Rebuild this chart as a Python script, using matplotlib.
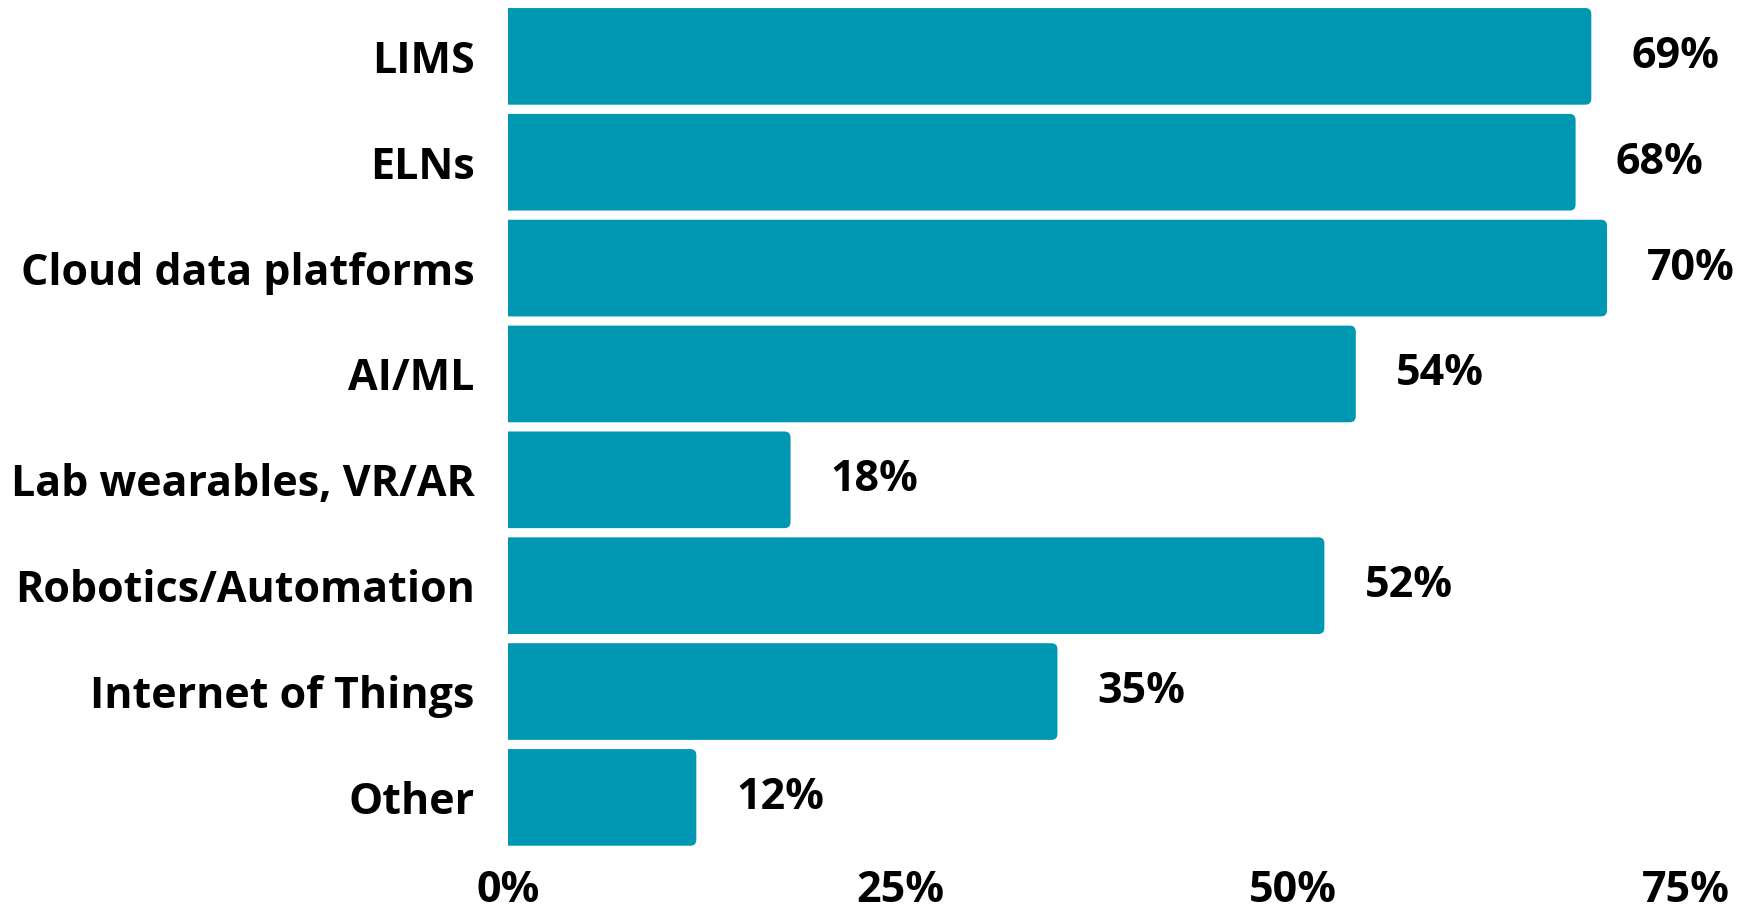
"""Horizontal bar chart: share of respondents using each lab technology."""

import matplotlib

matplotlib.use("Agg")
import matplotlib.pyplot as plt
from matplotlib.patches import PathPatch
from matplotlib.path import Path
import numpy as np

CATEGORIES = [
    "LIMS",
    "ELNs",
    "Cloud data platforms",
    "AI/ML",
    "Lab wearables, VR/AR",
    "Robotics/Automation",
    "Internet of Things",
    "Other",
]
VALUES = [69, 68, 70, 54, 18, 52, 35, 12]
X_TICKS = [0, 25, 50, 75]

BAR_COLOR = "#0097B2"
BAR_HEIGHT = 0.913
FONT = "Open Sans"

plt.rcParams["font.family"] = [FONT, "DejaVu Sans"]
plt.rcParams["font.weight"] = "bold"


def right_rounded_bar(y, width, height, rx, ry):
    """Path for a bar starting at x=0 with only its right-hand corners rounded."""
    y0, y1 = y - height / 2, y + height / 2
    verts = [
        (0, y0), (width - rx, y0),
        (width, y0), (width, y0 + ry),
        (width, y1 - ry),
        (width, y1), (width - rx, y1),
        (0, y1), (0, y0),
    ]
    codes = [
        Path.MOVETO, Path.LINETO,
        Path.CURVE3, Path.CURVE3,
        Path.LINETO,
        Path.CURVE3, Path.CURVE3,
        Path.LINETO, Path.CLOSEPOLY,
    ]
    return Path(verts, codes)


fig = plt.figure(figsize=(17.49, 9.14), dpi=100)
ax = fig.add_axes([0.2904, 0.0747, 0.6733, 0.9165])

y = np.arange(len(CATEGORIES))
values = np.array(VALUES, dtype=float)

# corner radius: ~6 px in both directions
rx, ry = 0.38, 0.057
for yi, v in zip(y, values):
    ax.add_patch(PathPatch(right_rounded_bar(yi, v, BAR_HEIGHT, rx, ry),
                           facecolor=BAR_COLOR, edgecolor="none", linewidth=0))

for yi, v in zip(y, values):
    ax.annotate(
        f"{v:.0f}%", xy=(v, yi), xytext=(29, 0), textcoords="offset points",
        ha="left", va="center", fontsize=31, fontweight="bold", color="black",
        annotation_clip=False,
    )

ax.set_xlim(0, 75)
ax.set_ylim(len(CATEGORIES) - 1 + 0.4565, -0.4565)
ax.set_yticks(y)
ax.set_yticklabels(CATEGORIES, fontsize=31, fontweight="bold")
ax.set_xticks(X_TICKS)
ax.set_xticklabels([f"{t}%" for t in X_TICKS], fontsize=31, fontweight="bold")
ax.tick_params(axis="y", length=0, pad=24)
ax.tick_params(axis="x", length=0, pad=17)
for spine in ax.spines.values():
    spine.set_visible(False)

fig.savefig("out.png", dpi=100, facecolor="white")
plt.close(fig)
